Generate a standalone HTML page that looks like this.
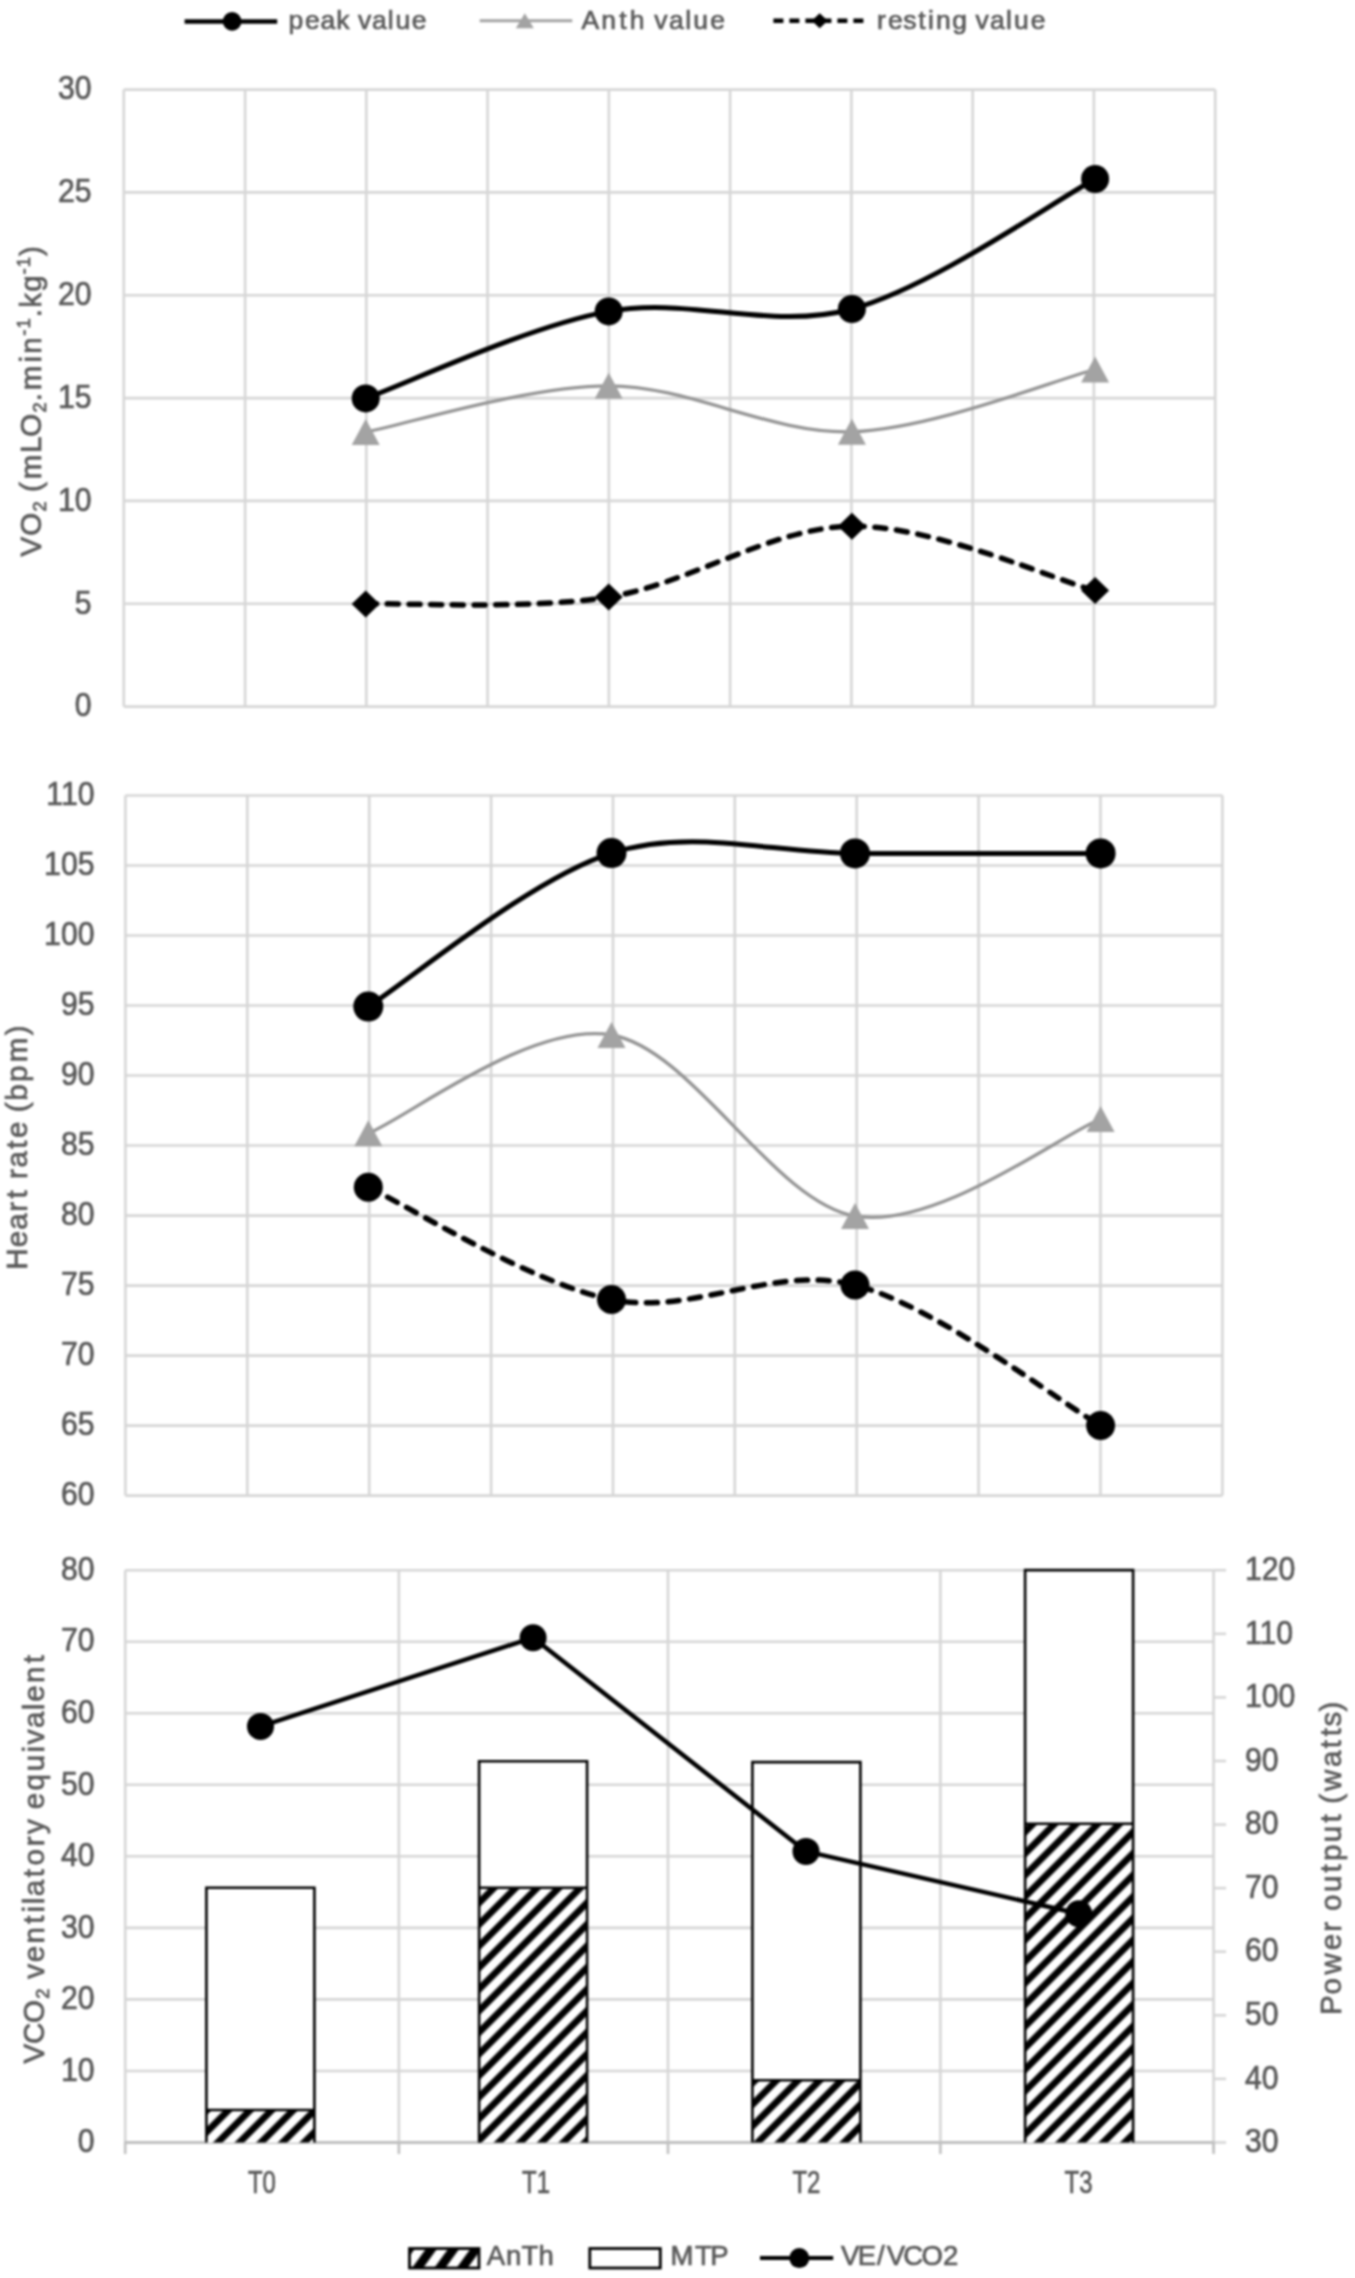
<!DOCTYPE html><html><head><meta charset="utf-8"><style>html,body{margin:0;padding:0;background:#fff;}svg{display:block;filter:blur(1px);}text{font-family:"Liberation Sans", sans-serif;stroke:#595959;stroke-width:0.7px;}</style></head><body>
<svg width="1355" height="2278" viewBox="0 0 1355 2278">
<defs><pattern id="hatch" patternUnits="userSpaceOnUse" width="15.27" height="15.27" patternTransform="rotate(45.0) translate(4.53 0)"><rect width="15.27" height="15.27" fill="#fff"/><rect x="0" y="0" width="3.40" height="15.27" fill="#000"/><rect x="11.87" y="0" width="3.40" height="15.27" fill="#000"/></pattern><pattern id="hatchL" patternUnits="userSpaceOnUse" width="18.00" height="18.00" patternTransform="rotate(36.0) translate(-3.11 0)"><rect width="18.00" height="18.00" fill="#fff"/><rect x="0" y="0" width="4.50" height="18.00" fill="#000"/><rect x="13.50" y="0" width="4.50" height="18.00" fill="#000"/></pattern></defs>
<rect width="1355" height="2278" fill="#fff"/>
<line x1="184.6" y1="21.4" x2="277.2" y2="21.4" stroke="#000" stroke-width="4.5"/>
<circle cx="232.1" cy="21.4" r="9.3" fill="#000"/>
<text font-size="26.5" fill="#595959"><tspan x="288.62" y="28.70">p</tspan><tspan x="304.96" y="28.70">e</tspan><tspan x="320.57" y="28.70">a</tspan><tspan x="336.24" y="28.70">k</tspan><tspan x="357.95" y="28.70">v</tspan><tspan x="372.08" y="28.70">a</tspan><tspan x="387.81" y="28.70">l</tspan><tspan x="395.43" y="28.70">u</tspan><tspan x="411.78" y="28.70">e</tspan></text>
<line x1="479.7" y1="20.7" x2="572.3" y2="20.7" stroke="#a3a3a3" stroke-width="3"/>
<path d="M524.8,13.2 L533.8,28.2 L515.8,28.2 Z" fill="#a3a3a3"/>
<text font-size="26.5" fill="#595959"><tspan x="581.56" y="28.70">A</tspan><tspan x="601.33" y="28.70">n</tspan><tspan x="619.28" y="28.70">t</tspan><tspan x="629.85" y="28.70">h</tspan><tspan x="654.28" y="28.70">v</tspan><tspan x="668.98" y="28.70">a</tspan><tspan x="685.14" y="28.70">l</tspan><tspan x="693.21" y="28.70">u</tspan><tspan x="710.17" y="28.70">e</tspan></text>
<line x1="773.4" y1="20.7" x2="868.4" y2="20.7" stroke="#000" stroke-width="4.5" stroke-dasharray="10 6"/>
<path d="M819.7,13.2 L827.7,20.7 L819.7,28.2 L811.7,20.7 Z" fill="#000"/>
<text font-size="26.5" fill="#595959"><tspan x="877.10" y="28.70">r</tspan><tspan x="888.01" y="28.70">e</tspan><tspan x="903.31" y="28.70">s</tspan><tspan x="918.14" y="28.70">t</tspan><tspan x="928.11" y="28.70">i</tspan><tspan x="936.03" y="28.70">n</tspan><tspan x="952.34" y="28.70">g</tspan><tspan x="975.59" y="28.70">v</tspan><tspan x="990.09" y="28.70">a</tspan><tspan x="1006.11" y="28.70">l</tspan><tspan x="1014.03" y="28.70">u</tspan><tspan x="1030.78" y="28.70">e</tspan></text>
<line x1="123.8" y1="89.6" x2="123.8" y2="706.6" stroke="#d6d6d6" stroke-width="2.6"/>
<line x1="245.1" y1="89.6" x2="245.1" y2="706.6" stroke="#d6d6d6" stroke-width="2.6"/>
<line x1="366.3" y1="89.6" x2="366.3" y2="706.6" stroke="#d6d6d6" stroke-width="2.6"/>
<line x1="487.6" y1="89.6" x2="487.6" y2="706.6" stroke="#d6d6d6" stroke-width="2.6"/>
<line x1="608.9" y1="89.6" x2="608.9" y2="706.6" stroke="#d6d6d6" stroke-width="2.6"/>
<line x1="730.1" y1="89.6" x2="730.1" y2="706.6" stroke="#d6d6d6" stroke-width="2.6"/>
<line x1="851.4" y1="89.6" x2="851.4" y2="706.6" stroke="#d6d6d6" stroke-width="2.6"/>
<line x1="972.7" y1="89.6" x2="972.7" y2="706.6" stroke="#d6d6d6" stroke-width="2.6"/>
<line x1="1093.9" y1="89.6" x2="1093.9" y2="706.6" stroke="#d6d6d6" stroke-width="2.6"/>
<line x1="1215.2" y1="89.6" x2="1215.2" y2="706.6" stroke="#d6d6d6" stroke-width="2.6"/>
<line x1="123.8" y1="89.6" x2="1215.2" y2="89.6" stroke="#d6d6d6" stroke-width="2.6"/>
<line x1="123.8" y1="192.4" x2="1215.2" y2="192.4" stroke="#d6d6d6" stroke-width="2.6"/>
<line x1="123.8" y1="295.3" x2="1215.2" y2="295.3" stroke="#d6d6d6" stroke-width="2.6"/>
<line x1="123.8" y1="398.1" x2="1215.2" y2="398.1" stroke="#d6d6d6" stroke-width="2.6"/>
<line x1="123.8" y1="500.9" x2="1215.2" y2="500.9" stroke="#d6d6d6" stroke-width="2.6"/>
<line x1="123.8" y1="603.8" x2="1215.2" y2="603.8" stroke="#d6d6d6" stroke-width="2.6"/>
<line x1="123.8" y1="706.6" x2="1215.2" y2="706.6" stroke="#d6d6d6" stroke-width="2.6"/>
<text transform="translate(91.5,99.3) scale(0.930,1)" font-size="32.5" text-anchor="end" fill="#595959">30</text>
<text transform="translate(91.5,202.1) scale(0.930,1)" font-size="32.5" text-anchor="end" fill="#595959">25</text>
<text transform="translate(91.5,305.0) scale(0.930,1)" font-size="32.5" text-anchor="end" fill="#595959">20</text>
<text transform="translate(91.5,407.8) scale(0.930,1)" font-size="32.5" text-anchor="end" fill="#595959">15</text>
<text transform="translate(91.5,510.6) scale(0.930,1)" font-size="32.5" text-anchor="end" fill="#595959">10</text>
<text transform="translate(91.5,613.5) scale(0.930,1)" font-size="32.5" text-anchor="end" fill="#595959">5</text>
<text transform="translate(91.5,716.3) scale(0.930,1)" font-size="32.5" text-anchor="end" fill="#595959">0</text>
<g transform="translate(40.7,557) rotate(-90)"><text font-size="29.5" fill="#595959"><tspan x="0.51" y="0.00">V</tspan><tspan x="21.26" y="0.00">O</tspan><tspan x="45.41" y="5.50" font-size="18.3">2</tspan><tspan x="65.03" y="0.00">(</tspan><tspan x="77.70" y="0.00">m</tspan><tspan x="103.95" y="0.00">L</tspan><tspan x="120.36" y="0.00">O</tspan><tspan x="144.50" y="5.50" font-size="18.3">2</tspan><tspan x="155.79" y="0.00">.</tspan><tspan x="166.72" y="0.00">m</tspan><tspan x="194.42" y="0.00">i</tspan><tspan x="203.21" y="0.00">n</tspan><tspan x="221.37" y="-11.00" font-size="18.3">-</tspan><tspan x="228.49" y="-11.00" font-size="18.3">1</tspan><tspan x="239.78" y="0.00">.</tspan><tspan x="249.36" y="0.00">k</tspan><tspan x="265.37" y="0.00">g</tspan><tspan x="282.55" y="-11.00" font-size="18.3">-</tspan><tspan x="289.68" y="-11.00" font-size="18.3">1</tspan><tspan x="301.08" y="0.00">)</tspan></text></g>
<path d="M365.7,432.0 C406.2,424.3 527.7,385.9 608.7,385.8 C689.7,385.8 770.8,434.4 851.9,431.7 C933.0,429.0 1054.6,379.9 1095.1,369.5" fill="none" stroke="#959595" stroke-width="3.3"/>
<path d="M365.7,603.9 C406.2,602.8 527.7,610.0 608.7,597.0 C689.7,584.0 770.8,527.3 851.9,526.2 C933.0,525.1 1054.6,579.9 1095.1,590.6" fill="none" stroke="#000" stroke-width="5.5" stroke-dasharray="11 10.7" stroke-linecap="round"/>
<path d="M365.7,398.4 C406.2,383.9 527.7,326.3 608.7,311.4 C689.7,296.5 770.8,331.1 851.9,309.0 C933.0,286.9 1054.6,200.7 1095.1,179.0" fill="none" stroke="#000" stroke-width="5"/>
<path d="M365.7,419.0 L379.7,445.0 L351.7,445.0 Z" fill="#a3a3a3"/>
<path d="M608.7,372.8 L622.7,398.8 L594.7,398.8 Z" fill="#a3a3a3"/>
<path d="M851.9,418.7 L865.9,444.7 L837.9,444.7 Z" fill="#a3a3a3"/>
<path d="M1095.1,356.5 L1109.1,382.5 L1081.1,382.5 Z" fill="#a3a3a3"/>
<path d="M365.7,590.4 L379.7,603.9 L365.7,617.4 L351.7,603.9 Z" fill="#000"/>
<path d="M608.7,583.5 L622.7,597.0 L608.7,610.5 L594.7,597.0 Z" fill="#000"/>
<path d="M851.9,512.7 L865.9,526.2 L851.9,539.7 L837.9,526.2 Z" fill="#000"/>
<path d="M1095.1,577.1 L1109.1,590.6 L1095.1,604.1 L1081.1,590.6 Z" fill="#000"/>
<circle cx="365.7" cy="398.4" r="14.0" fill="#000"/>
<circle cx="608.7" cy="311.4" r="14.0" fill="#000"/>
<circle cx="851.9" cy="309.0" r="14.0" fill="#000"/>
<circle cx="1095.1" cy="179.0" r="14.0" fill="#000"/>
<line x1="125.4" y1="795.5" x2="125.4" y2="1495.6" stroke="#d6d6d6" stroke-width="2.6"/>
<line x1="247.3" y1="795.5" x2="247.3" y2="1495.6" stroke="#d6d6d6" stroke-width="2.6"/>
<line x1="369.2" y1="795.5" x2="369.2" y2="1495.6" stroke="#d6d6d6" stroke-width="2.6"/>
<line x1="491.1" y1="795.5" x2="491.1" y2="1495.6" stroke="#d6d6d6" stroke-width="2.6"/>
<line x1="613.0" y1="795.5" x2="613.0" y2="1495.6" stroke="#d6d6d6" stroke-width="2.6"/>
<line x1="734.8" y1="795.5" x2="734.8" y2="1495.6" stroke="#d6d6d6" stroke-width="2.6"/>
<line x1="856.7" y1="795.5" x2="856.7" y2="1495.6" stroke="#d6d6d6" stroke-width="2.6"/>
<line x1="978.6" y1="795.5" x2="978.6" y2="1495.6" stroke="#d6d6d6" stroke-width="2.6"/>
<line x1="1100.5" y1="795.5" x2="1100.5" y2="1495.6" stroke="#d6d6d6" stroke-width="2.6"/>
<line x1="1222.4" y1="795.5" x2="1222.4" y2="1495.6" stroke="#d6d6d6" stroke-width="2.6"/>
<line x1="125.4" y1="795.5" x2="1222.4" y2="795.5" stroke="#d6d6d6" stroke-width="2.6"/>
<line x1="125.4" y1="865.5" x2="1222.4" y2="865.5" stroke="#d6d6d6" stroke-width="2.6"/>
<line x1="125.4" y1="935.5" x2="1222.4" y2="935.5" stroke="#d6d6d6" stroke-width="2.6"/>
<line x1="125.4" y1="1005.5" x2="1222.4" y2="1005.5" stroke="#d6d6d6" stroke-width="2.6"/>
<line x1="125.4" y1="1075.5" x2="1222.4" y2="1075.5" stroke="#d6d6d6" stroke-width="2.6"/>
<line x1="125.4" y1="1145.5" x2="1222.4" y2="1145.5" stroke="#d6d6d6" stroke-width="2.6"/>
<line x1="125.4" y1="1215.6" x2="1222.4" y2="1215.6" stroke="#d6d6d6" stroke-width="2.6"/>
<line x1="125.4" y1="1285.6" x2="1222.4" y2="1285.6" stroke="#d6d6d6" stroke-width="2.6"/>
<line x1="125.4" y1="1355.6" x2="1222.4" y2="1355.6" stroke="#d6d6d6" stroke-width="2.6"/>
<line x1="125.4" y1="1425.6" x2="1222.4" y2="1425.6" stroke="#d6d6d6" stroke-width="2.6"/>
<line x1="125.4" y1="1495.6" x2="1222.4" y2="1495.6" stroke="#d6d6d6" stroke-width="2.6"/>
<text transform="translate(94.5,805.2) scale(0.930,1)" font-size="32.5" text-anchor="end" fill="#595959">110</text>
<text transform="translate(94.5,875.2) scale(0.930,1)" font-size="32.5" text-anchor="end" fill="#595959">105</text>
<text transform="translate(94.5,945.2) scale(0.930,1)" font-size="32.5" text-anchor="end" fill="#595959">100</text>
<text transform="translate(94.5,1015.2) scale(0.930,1)" font-size="32.5" text-anchor="end" fill="#595959">95</text>
<text transform="translate(94.5,1085.2) scale(0.930,1)" font-size="32.5" text-anchor="end" fill="#595959">90</text>
<text transform="translate(94.5,1155.2) scale(0.930,1)" font-size="32.5" text-anchor="end" fill="#595959">85</text>
<text transform="translate(94.5,1225.3) scale(0.930,1)" font-size="32.5" text-anchor="end" fill="#595959">80</text>
<text transform="translate(94.5,1295.3) scale(0.930,1)" font-size="32.5" text-anchor="end" fill="#595959">75</text>
<text transform="translate(94.5,1365.3) scale(0.930,1)" font-size="32.5" text-anchor="end" fill="#595959">70</text>
<text transform="translate(94.5,1435.3) scale(0.930,1)" font-size="32.5" text-anchor="end" fill="#595959">65</text>
<text transform="translate(94.5,1505.3) scale(0.930,1)" font-size="32.5" text-anchor="end" fill="#595959">60</text>
<g transform="translate(26.8,1270.3) rotate(-90)"><text font-size="29.5" fill="#595959"><tspan x="0.51" y="0.00">H</tspan><tspan x="23.04" y="0.00">e</tspan><tspan x="40.54" y="0.00">a</tspan><tspan x="58.67" y="0.00">r</tspan><tspan x="71.73" y="0.00">t</tspan><tspan x="91.27" y="0.00">r</tspan><tspan x="102.81" y="0.00">a</tspan><tspan x="121.50" y="0.00">t</tspan><tspan x="132.32" y="0.00">e</tspan><tspan x="158.06" y="0.00">(</tspan><tspan x="169.60" y="0.00">b</tspan><tspan x="188.41" y="0.00">p</tspan><tspan x="208.04" y="0.00">m</tspan><tspan x="235.16" y="0.00">)</tspan></text></g>
<path d="M368.3,1133.3 C408.8,1116.9 530.4,1021.2 611.5,1035.0 C692.6,1048.8 773.5,1202.0 855.0,1216.0 C936.5,1230.0 1059.7,1135.2 1100.6,1119.0" fill="none" stroke="#959595" stroke-width="3.3"/>
<path d="M368.3,1187.3 C408.8,1206.0 530.4,1283.3 611.5,1299.6 C692.6,1315.9 773.5,1264.1 855.0,1285.1 C936.5,1306.1 1059.7,1402.2 1100.6,1425.6" fill="none" stroke="#000" stroke-width="5.5" stroke-dasharray="11 10.7" stroke-linecap="round"/>
<path d="M368.3,1006.6 C408.8,981.0 530.4,878.6 611.5,853.1 C692.6,827.6 773.5,853.4 855.0,853.4 C936.5,853.4 1059.7,853.4 1100.6,853.4" fill="none" stroke="#000" stroke-width="5"/>
<path d="M368.3,1120.3 L382.3,1146.3 L354.3,1146.3 Z" fill="#a3a3a3"/>
<path d="M611.5,1022.0 L625.5,1048.0 L597.5,1048.0 Z" fill="#a3a3a3"/>
<path d="M855.0,1203.0 L869.0,1229.0 L841.0,1229.0 Z" fill="#a3a3a3"/>
<path d="M1100.6,1106.0 L1114.6,1132.0 L1086.6,1132.0 Z" fill="#a3a3a3"/>
<circle cx="368.3" cy="1187.3" r="14.5" fill="#000"/>
<circle cx="611.5" cy="1299.6" r="14.5" fill="#000"/>
<circle cx="855.0" cy="1285.1" r="14.5" fill="#000"/>
<circle cx="1100.6" cy="1425.6" r="14.5" fill="#000"/>
<circle cx="368.3" cy="1006.6" r="15.0" fill="#000"/>
<circle cx="611.5" cy="853.1" r="15.0" fill="#000"/>
<circle cx="855.0" cy="853.4" r="15.0" fill="#000"/>
<circle cx="1100.6" cy="853.4" r="15.0" fill="#000"/>
<line x1="125.2" y1="1570.2" x2="125.2" y2="2142.5" stroke="#d6d6d6" stroke-width="2.6"/>
<line x1="398.9" y1="1570.2" x2="398.9" y2="2142.5" stroke="#d6d6d6" stroke-width="2.6"/>
<line x1="668.0" y1="1570.2" x2="668.0" y2="2142.5" stroke="#d6d6d6" stroke-width="2.6"/>
<line x1="940.4" y1="1570.2" x2="940.4" y2="2142.5" stroke="#d6d6d6" stroke-width="2.6"/>
<line x1="1213.6" y1="1570.2" x2="1213.6" y2="2142.5" stroke="#d6d6d6" stroke-width="2.6"/>
<line x1="125.2" y1="1570.2" x2="1213.6" y2="1570.2" stroke="#d6d6d6" stroke-width="2.6"/>
<line x1="125.2" y1="1641.7" x2="1213.6" y2="1641.7" stroke="#d6d6d6" stroke-width="2.6"/>
<line x1="125.2" y1="1713.3" x2="1213.6" y2="1713.3" stroke="#d6d6d6" stroke-width="2.6"/>
<line x1="125.2" y1="1784.8" x2="1213.6" y2="1784.8" stroke="#d6d6d6" stroke-width="2.6"/>
<line x1="125.2" y1="1856.3" x2="1213.6" y2="1856.3" stroke="#d6d6d6" stroke-width="2.6"/>
<line x1="125.2" y1="1927.9" x2="1213.6" y2="1927.9" stroke="#d6d6d6" stroke-width="2.6"/>
<line x1="125.2" y1="1999.4" x2="1213.6" y2="1999.4" stroke="#d6d6d6" stroke-width="2.6"/>
<line x1="125.2" y1="2071.0" x2="1213.6" y2="2071.0" stroke="#d6d6d6" stroke-width="2.6"/>
<line x1="1213.6" y1="1570.2" x2="1226.1" y2="1570.2" stroke="#d6d6d6" stroke-width="2.6"/>
<line x1="1213.6" y1="1633.8" x2="1226.1" y2="1633.8" stroke="#d6d6d6" stroke-width="2.6"/>
<line x1="1213.6" y1="1697.4" x2="1226.1" y2="1697.4" stroke="#d6d6d6" stroke-width="2.6"/>
<line x1="1213.6" y1="1761.0" x2="1226.1" y2="1761.0" stroke="#d6d6d6" stroke-width="2.6"/>
<line x1="1213.6" y1="1824.6" x2="1226.1" y2="1824.6" stroke="#d6d6d6" stroke-width="2.6"/>
<line x1="1213.6" y1="1888.1" x2="1226.1" y2="1888.1" stroke="#d6d6d6" stroke-width="2.6"/>
<line x1="1213.6" y1="1951.7" x2="1226.1" y2="1951.7" stroke="#d6d6d6" stroke-width="2.6"/>
<line x1="1213.6" y1="2015.3" x2="1226.1" y2="2015.3" stroke="#d6d6d6" stroke-width="2.6"/>
<line x1="1213.6" y1="2078.9" x2="1226.1" y2="2078.9" stroke="#d6d6d6" stroke-width="2.6"/>
<line x1="1213.6" y1="2142.5" x2="1226.1" y2="2142.5" stroke="#d6d6d6" stroke-width="2.6"/>
<line x1="1213.6" y1="2142.5" x2="1213.6" y2="2150.5" stroke="#d6d6d6" stroke-width="2.6"/>
<text transform="translate(94.5,1579.9) scale(0.930,1)" font-size="32.5" text-anchor="end" fill="#595959">80</text>
<text transform="translate(94.5,1651.4) scale(0.930,1)" font-size="32.5" text-anchor="end" fill="#595959">70</text>
<text transform="translate(94.5,1723.0) scale(0.930,1)" font-size="32.5" text-anchor="end" fill="#595959">60</text>
<text transform="translate(94.5,1794.5) scale(0.930,1)" font-size="32.5" text-anchor="end" fill="#595959">50</text>
<text transform="translate(94.5,1866.0) scale(0.930,1)" font-size="32.5" text-anchor="end" fill="#595959">40</text>
<text transform="translate(94.5,1937.6) scale(0.930,1)" font-size="32.5" text-anchor="end" fill="#595959">30</text>
<text transform="translate(94.5,2009.1) scale(0.930,1)" font-size="32.5" text-anchor="end" fill="#595959">20</text>
<text transform="translate(94.5,2080.7) scale(0.930,1)" font-size="32.5" text-anchor="end" fill="#595959">10</text>
<text transform="translate(94.5,2152.2) scale(0.930,1)" font-size="32.5" text-anchor="end" fill="#595959">0</text>
<text transform="translate(1245.0,1579.9) scale(0.930,1)" font-size="32.5" text-anchor="start" fill="#595959">120</text>
<text transform="translate(1245.0,1643.5) scale(0.930,1)" font-size="32.5" text-anchor="start" fill="#595959">110</text>
<text transform="translate(1245.0,1707.1) scale(0.930,1)" font-size="32.5" text-anchor="start" fill="#595959">100</text>
<text transform="translate(1245.0,1770.7) scale(0.930,1)" font-size="32.5" text-anchor="start" fill="#595959">90</text>
<text transform="translate(1245.0,1834.3) scale(0.930,1)" font-size="32.5" text-anchor="start" fill="#595959">80</text>
<text transform="translate(1245.0,1897.8) scale(0.930,1)" font-size="32.5" text-anchor="start" fill="#595959">70</text>
<text transform="translate(1245.0,1961.4) scale(0.930,1)" font-size="32.5" text-anchor="start" fill="#595959">60</text>
<text transform="translate(1245.0,2025.0) scale(0.930,1)" font-size="32.5" text-anchor="start" fill="#595959">50</text>
<text transform="translate(1245.0,2088.6) scale(0.930,1)" font-size="32.5" text-anchor="start" fill="#595959">40</text>
<text transform="translate(1245.0,2152.2) scale(0.930,1)" font-size="32.5" text-anchor="start" fill="#595959">30</text>
<g transform="translate(43.5,2064) rotate(-90)"><text font-size="29.5" fill="#595959"><tspan x="0.57" y="0.00">V</tspan><tspan x="19.91" y="0.00">C</tspan><tspan x="40.94" y="0.00">O</tspan><tspan x="65.19" y="5.50" font-size="18.3">2</tspan><tspan x="85.18" y="0.00">v</tspan><tspan x="101.73" y="0.00">e</tspan><tspan x="120.43" y="0.00">n</tspan><tspan x="140.27" y="0.00">t</tspan><tspan x="151.40" y="0.00">i</tspan><tspan x="159.78" y="0.00">l</tspan><tspan x="167.80" y="0.00">a</tspan><tspan x="186.80" y="0.00">t</tspan><tspan x="198.46" y="0.00">o</tspan><tspan x="217.77" y="0.00">r</tspan><tspan x="229.97" y="0.00">y</tspan><tspan x="254.80" y="0.00">e</tspan><tspan x="273.51" y="0.00">q</tspan><tspan x="292.72" y="0.00">u</tspan><tspan x="311.43" y="0.00">i</tspan><tspan x="319.79" y="0.00">v</tspan><tspan x="335.99" y="0.00">a</tspan><tspan x="353.86" y="0.00">l</tspan><tspan x="362.23" y="0.00">e</tspan><tspan x="380.94" y="0.00">n</tspan><tspan x="400.78" y="0.00">t</tspan></text></g>
<g transform="translate(1340.5,2014.5) rotate(-90)"><text font-size="29.5" fill="#595959"><tspan x="-0.51" y="0.00">P</tspan><tspan x="19.95" y="0.00">o</tspan><tspan x="39.90" y="0.00">w</tspan><tspan x="64.23" y="0.00">e</tspan><tspan x="82.80" y="0.00">r</tspan><tspan x="103.46" y="0.00">o</tspan><tspan x="122.43" y="0.00">u</tspan><tspan x="142.05" y="0.00">t</tspan><tspan x="153.45" y="0.00">p</tspan><tspan x="172.39" y="0.00">u</tspan><tspan x="192.01" y="0.00">t</tspan><tspan x="210.85" y="0.00">(</tspan><tspan x="223.47" y="0.00">w</tspan><tspan x="247.46" y="0.00">a</tspan><tspan x="266.24" y="0.00">t</tspan><tspan x="278.33" y="0.00">t</tspan><tspan x="288.14" y="0.00">s</tspan><tspan x="303.12" y="0.00">)</tspan></text></g>
<line x1="125.2" y1="2142.5" x2="125.2" y2="2154.0" stroke="#c0c0c0" stroke-width="2.6"/>
<line x1="398.9" y1="2142.5" x2="398.9" y2="2154.0" stroke="#c0c0c0" stroke-width="2.6"/>
<line x1="668.0" y1="2142.5" x2="668.0" y2="2154.0" stroke="#c0c0c0" stroke-width="2.6"/>
<line x1="940.4" y1="2142.5" x2="940.4" y2="2154.0" stroke="#c0c0c0" stroke-width="2.6"/>
<line x1="1213.6" y1="2142.5" x2="1213.6" y2="2154.0" stroke="#c0c0c0" stroke-width="2.6"/>
<line x1="124.2" y1="2142.5" x2="1214.6" y2="2142.5" stroke="#c0c0c0" stroke-width="2.8"/>
<rect x="206.4" y="1887.8" width="108.0" height="254.7" fill="#fff"/>
<rect x="206.4" y="2110.0" width="108.0" height="32.5" fill="url(#hatch)"/>
<path d="M206.4,2142.5 L206.4,1887.8 L314.4,1887.8 L314.4,2142.5" fill="none" stroke="#000" stroke-width="2.6"/>
<line x1="206.4" y1="2110.0" x2="314.4" y2="2110.0" stroke="#000" stroke-width="2.6"/>
<rect x="479.1" y="1761.2" width="108.0" height="381.3" fill="#fff"/>
<rect x="479.1" y="1887.8" width="108.0" height="254.7" fill="url(#hatch)"/>
<path d="M479.1,2142.5 L479.1,1761.2 L587.1,1761.2 L587.1,2142.5" fill="none" stroke="#000" stroke-width="2.6"/>
<line x1="479.1" y1="1887.8" x2="587.1" y2="1887.8" stroke="#000" stroke-width="2.6"/>
<rect x="752.4" y="1762.1" width="108.0" height="380.4" fill="#fff"/>
<rect x="752.4" y="2080.3" width="108.0" height="62.2" fill="url(#hatch)"/>
<path d="M752.4,2142.5 L752.4,1762.1 L860.4,1762.1 L860.4,2142.5" fill="none" stroke="#000" stroke-width="2.6"/>
<line x1="752.4" y1="2080.3" x2="860.4" y2="2080.3" stroke="#000" stroke-width="2.6"/>
<rect x="1025.1" y="1570.1" width="108.0" height="572.4" fill="#fff"/>
<rect x="1025.1" y="1823.8" width="108.0" height="318.7" fill="url(#hatch)"/>
<path d="M1025.1,2142.5 L1025.1,1570.1 L1133.1,1570.1 L1133.1,2142.5" fill="none" stroke="#000" stroke-width="2.6"/>
<line x1="1025.1" y1="1823.8" x2="1133.1" y2="1823.8" stroke="#000" stroke-width="2.6"/>
<path d="M260.5,1726.4 L533.1,1637.7 L806.0,1851.4 L1078.8,1913.7" fill="none" stroke="#000" stroke-width="4.5" stroke-linejoin="round"/>
<circle cx="260.5" cy="1726.4" r="13.5" fill="#000"/>
<circle cx="533.1" cy="1637.7" r="13.5" fill="#000"/>
<circle cx="806.0" cy="1851.4" r="13.5" fill="#000"/>
<circle cx="1078.8" cy="1913.7" r="13.5" fill="#000"/>
<text x="247.9" y="2193.0" font-size="31.0" text-anchor="start" fill="#595959" textLength="28.0" lengthAdjust="spacingAndGlyphs">T0</text>
<text x="522.0" y="2193.0" font-size="31.0" text-anchor="start" fill="#595959" textLength="28.0" lengthAdjust="spacingAndGlyphs">T1</text>
<text x="792.4" y="2193.0" font-size="31.0" text-anchor="start" fill="#595959" textLength="28.0" lengthAdjust="spacingAndGlyphs">T2</text>
<text x="1064.6" y="2193.0" font-size="31.0" text-anchor="start" fill="#595959" textLength="28.0" lengthAdjust="spacingAndGlyphs">T3</text>
<rect x="409.5" y="2248.5" width="69.5" height="19.5" fill="url(#hatchL)" stroke="#000" stroke-width="2.8"/>
<text font-size="27.5" fill="#595959"><tspan x="486.73" y="2265.40">A</tspan><tspan x="506.00" y="2265.40">n</tspan><tspan x="521.50" y="2265.40">T</tspan><tspan x="538.52" y="2265.40">h</tspan></text>
<rect x="589.8" y="2248.5" width="70.5" height="19.5" fill="#fff" stroke="#000" stroke-width="2.8"/>
<text font-size="27.5" fill="#595959"><tspan x="670.43" y="2265.40">M</tspan><tspan x="694.96" y="2265.40">T</tspan><tspan x="710.26" y="2265.40">P</tspan></text>
<line x1="760" y1="2258.1" x2="833.2" y2="2258.1" stroke="#000" stroke-width="4"/>
<circle cx="799.3" cy="2258.1" r="10.0" fill="#000"/>
<text font-size="27.5" fill="#595959"><tspan x="841.03" y="2265.40">V</tspan><tspan x="857.75" y="2265.40">E</tspan><tspan x="876.93" y="2265.40">/</tspan><tspan x="886.68" y="2265.40">V</tspan><tspan x="903.36" y="2265.40">C</tspan><tspan x="921.49" y="2265.40">O</tspan><tspan x="943.03" y="2265.40">2</tspan></text>
</svg></body></html>
